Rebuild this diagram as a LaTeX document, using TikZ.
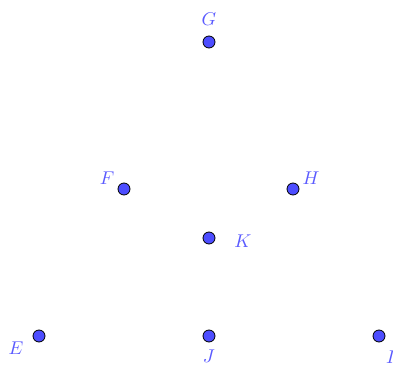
\documentclass[tikz,border=0pt]{standalone}
\newcommand{\lab}[1]{\scalebox{1.85}{$#1$}}
\begin{document}
\begin{tikzpicture}[x=1pt,y=-1pt,
  pt/.style={circle,draw=black,fill=ptfill,line width=0.8pt,inner sep=0pt,minimum size=12pt},
  lbl/.style={text=lblcol,inner sep=0pt}]
\definecolor{ptfill}{RGB}{77,77,255}
\definecolor{lblcol}{RGB}{90,90,255}
\useasboundingbox (0,0) rectangle (393,366);
\node[pt] (G) at (209,42) {};
\node[pt] (F) at (124,189) {};
\node[pt] (H) at (293,189) {};
\node[pt] (K) at (209,238) {};
\node[pt] (E) at (39,336) {};
\node[pt] (J) at (209,336) {};
\node[pt] (I) at (379,336) {};
\node[lbl] (lG) at (209,19) {\lab{G}};
\node[lbl] (lF) at (107,178) {\lab{F}};
\node[lbl] (lH) at (311,178) {\lab{H}};
\node[lbl] (lK) at (243,241) {\lab{K}};
\node[lbl] (lE) at (16,348) {\lab{E}};
\node[lbl] (lJ) at (209,356) {\lab{J}};
\node[lbl] (lI) at (391,357) {\lab{I}};
\end{tikzpicture}
\end{document}
